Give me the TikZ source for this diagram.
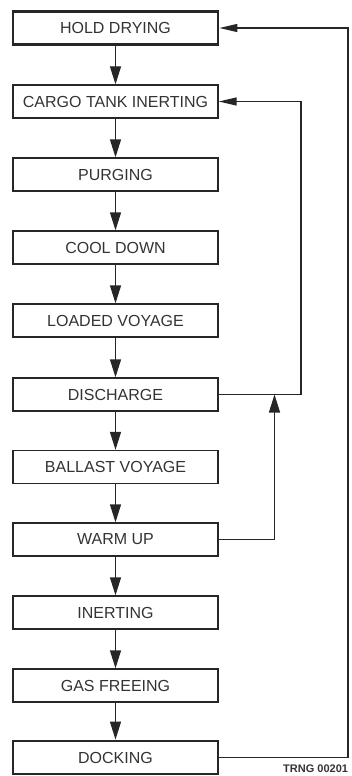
\documentclass[tikz,border=0pt]{standalone}
\usepackage{fontspec}
\setmainfont{Liberation Sans}
\usetikzlibrary{arrows.meta}
\begin{document}
\begin{tikzpicture}[x=1pt,y=-1pt,
  stagebox/.style={draw=black!85, line width=1.3pt, minimum width=205pt, minimum height=33pt,
    inner sep=0pt, font=\fontsize{16}{18}\selectfont, text=black!80},
  endbox/.style={stagebox, line width=2.8pt},
  flow/.style={draw=black!85, line width=1.3pt, -{Triangle[length=18pt,width=11pt]}},
  back/.style={draw=black!85, line width=1.3pt, -{Triangle[length=18pt,width=8pt]}}]
\useasboundingbox (0,0) rectangle (351,776);
\path[clip] (0,0) rectangle (351,776);
\node[endbox]   (hold)  at (115.5,28)    {HOLD DRYING};
\node[stagebox] (cargo) at (115.5,101.5) {CARGO TANK INERTING};
\node[stagebox] (purge) at (115.5,174.5) {PURGING};
\node[stagebox] (cool)  at (115.5,247.5) {COOL DOWN};
\node[stagebox] (load)  at (115.5,320.5) {LOADED VOYAGE};
\node[stagebox] (disc)  at (115.5,394.5) {DISCHARGE};
\node[stagebox] (ball)  at (115.5,467)   {BALLAST VOYAGE};
\node[stagebox] (warm)  at (115.5,539.5) {WARM UP};
\node[stagebox] (inert) at (115.5,612.5) {INERTING};
\node[stagebox] (gas)   at (115.5,685.5) {GAS FREEING};
\node[endbox]   (dock)  at (115.5,757.5) {DOCKING};
\node[anchor=north west, inner sep=0pt, font=\bfseries\fontsize{11}{12}\selectfont, text=black!80] (trng) at (283,765) {TRNG 00201};
\draw[flow] (hold) -- (cargo);
\draw[flow] (cargo) -- (purge);
\draw[flow] (purge) -- (cool);
\draw[flow] (cool) -- (load);
\draw[flow] (load) -- (disc);
\draw[flow] (disc) -- (ball);
\draw[flow] (ball) -- (warm);
\draw[flow] (warm) -- (inert);
\draw[flow] (inert) -- (gas);
\draw[flow] (gas) -- (dock);
\coordinate (c1) at (348,757.5);
\coordinate (c2) at (348,28);
\coordinate (d1) at (301,394.5);
\coordinate (d2) at (301,101.5);
\coordinate (w1) at (274.5,539.5);
\coordinate (w2) at (274.5,394.5);
\draw[back] (dock.east) -- (c1) -- (c2) -- (hold.east);
\draw[back] (disc.east) -- (d1) -- (d2) -- (cargo.east);
\draw[flow] (warm.east) -- (w1) -- (w2);
\end{tikzpicture}
\end{document}
